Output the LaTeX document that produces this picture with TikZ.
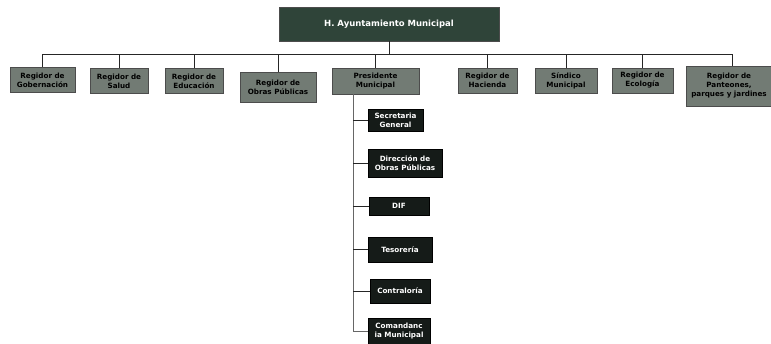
\documentclass[tikz,border=0pt]{standalone}
\usepackage{fontspec}
\setmainfont{DejaVu Sans}
\definecolor{topgreen}{HTML}{2F4439}
\definecolor{regray}{HTML}{727B74}
\definecolor{darkbox}{HTML}{151B18}
\begin{document}
\begin{tikzpicture}[x=1pt, y=-1pt,
  regbox/.style={draw=black!70, fill=regray, text=black, font=\fontsize{7.2}{9}\selectfont\bfseries, align=center, inner sep=1pt},
  blkbox/.style={draw=black, fill=darkbox, text=white, font=\fontsize{7.2}{9}\selectfont\bfseries, align=center, inner sep=1pt},
  link/.style={draw=black!85, line width=0.7pt}]
\useasboundingbox (0,0) rectangle (771,343);
\node[draw=black!70, fill=topgreen, text=white, font=\fontsize{8.5}{10}\selectfont\bfseries, minimum width=220pt, minimum height=34pt] (ayto) at (389,24) {H. Ayuntamiento Municipal};
\node[regbox, minimum width=65pt, minimum height=25pt] (gob) at (42.5,80) {Regidor de\\Gobernación};
\node[regbox, minimum width=58pt, minimum height=25pt] (sal) at (119,81) {Regidor de\\Salud};
\node[regbox, minimum width=58pt, minimum height=25pt] (edu) at (194,81) {Regidor de\\Educación};
\node[regbox, minimum width=76pt, minimum height=30pt] (obr) at (278,87) {Regidor de\\Obras Públicas};
\node[regbox, minimum width=87pt, minimum height=26pt] (pres) at (375.5,81) {Presidente\\Municipal};
\node[regbox, minimum width=59pt, minimum height=25pt] (hac) at (487.5,80.5) {Regidor de\\Hacienda};
\node[regbox, minimum width=62pt, minimum height=25pt] (sin) at (566,80.5) {Síndico\\Municipal};
\node[regbox, minimum width=61pt, minimum height=25pt] (eco) at (642.5,80.5) {Regidor de\\Ecología};
\node[regbox, minimum width=86pt, minimum height=40pt] (pan) at (729,86) {Regidor de\\Panteones,\\parques y jardines};
\node[blkbox, minimum width=55pt, minimum height=22pt] (sec) at (395.5,120) {Secretaria\\General};
\node[blkbox, minimum width=74pt, minimum height=28pt] (dir) at (405,163) {Dirección de\\Obras Públicas};
\node[blkbox, minimum width=60pt, minimum height=18pt] (dif) at (399,206) {DIF};
\node[blkbox, minimum width=64pt, minimum height=25pt] (tes) at (400,249.5) {Tesorería};
\node[blkbox, minimum width=60pt, minimum height=24pt] (con) at (400,291) {Contraloría};
\node[blkbox, minimum width=62pt, minimum height=26pt] (com) at (399,331) {Comandanc\\ia Municipal};
\coordinate (busL) at (42.5,54);
\coordinate (busR) at (732,54);
\coordinate (spine) at (353,94);
\draw[link] (ayto.south) -- (ayto.south |- busL);
\draw[link] (busL) -- (busR);
\foreach \n in {gob,sal,edu,obr,pres,hac,sin,eco}
  \draw[link] (\n.north |- busL) -- (\n.north);
\draw[link] (busR) -- (busR |- pan.north);
\draw[link, draw=black!60] (spine) |- (com.west);
\foreach \n in {sec,dir,dif,tes,con}
  \draw[link] (spine |- \n.west) -- (\n.west);
\end{tikzpicture}
\end{document}
